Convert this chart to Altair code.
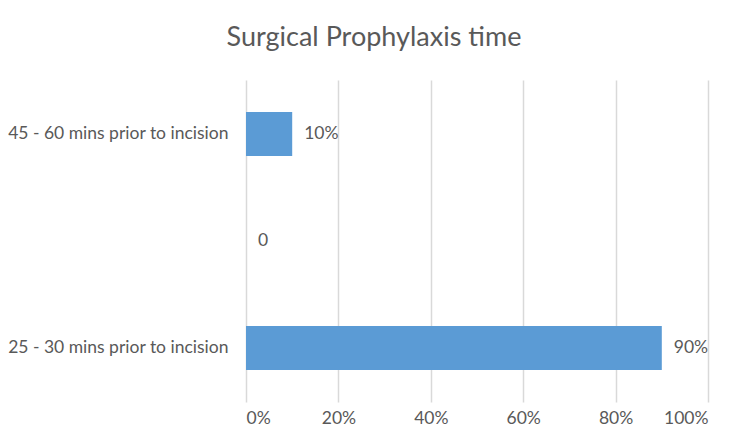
import altair as alt
import pandas as pd

categories = ["45 - 60 mins prior to incision", " ", "25 - 30 mins prior to incision"]
values = [0.10, 0.0, 0.90]
labels = ["10%", "0", "90%"]

df = pd.DataFrame({"cat": categories, "val": values, "lab": labels})

FONT = "Lato"
GRAY = "#595959"
FS = 17.5

y_enc = alt.Y("cat:N", sort=categories, title=None,
              scale=alt.Scale(paddingInner=0.59, paddingOuter=0.3),
              axis=alt.Axis(domain=False, ticks=False, labelFontSize=FS, labelColor=GRAY,
                            labelFont=FONT, labelPadding=18, labelLimit=300))
x_enc = alt.X("val:Q", title=None,
              scale=alt.Scale(domain=[0, 1], nice=False),
              axis=alt.Axis(format=".0%", values=[0, 0.2, 0.4, 0.6, 0.8, 1.0], domain=False, ticks=False,
                            grid=True, gridColor="#D9D9D9", gridWidth=1.5,
                            labelFontSize=FS, labelColor=GRAY, labelFont=FONT, labelPadding=7))

base = alt.Chart(df)
bars = base.mark_bar(color="#5B9BD5").encode(x=x_enc, y=y_enc)
text = base.mark_text(align="left", baseline="middle", dx=12, fontSize=FS, color=GRAY, font=FONT).encode(
    x="val:Q", y=alt.Y("cat:N", sort=categories), text="lab:N")

chart = (bars + text).properties(
    width=462, height=322,
    autosize="none",
    padding={"left": 238, "top": 72, "right": 34, "bottom": 38},
    title=alt.TitleParams("Surgical Prophylaxis time", fontSize=27, color=GRAY, font=FONT,
                          fontWeight="normal", anchor="middle", dx=-103, offset=28),
).configure_view(stroke=None)

chart.save("out.html", embed_options={"renderer": "svg", "actions": False})
